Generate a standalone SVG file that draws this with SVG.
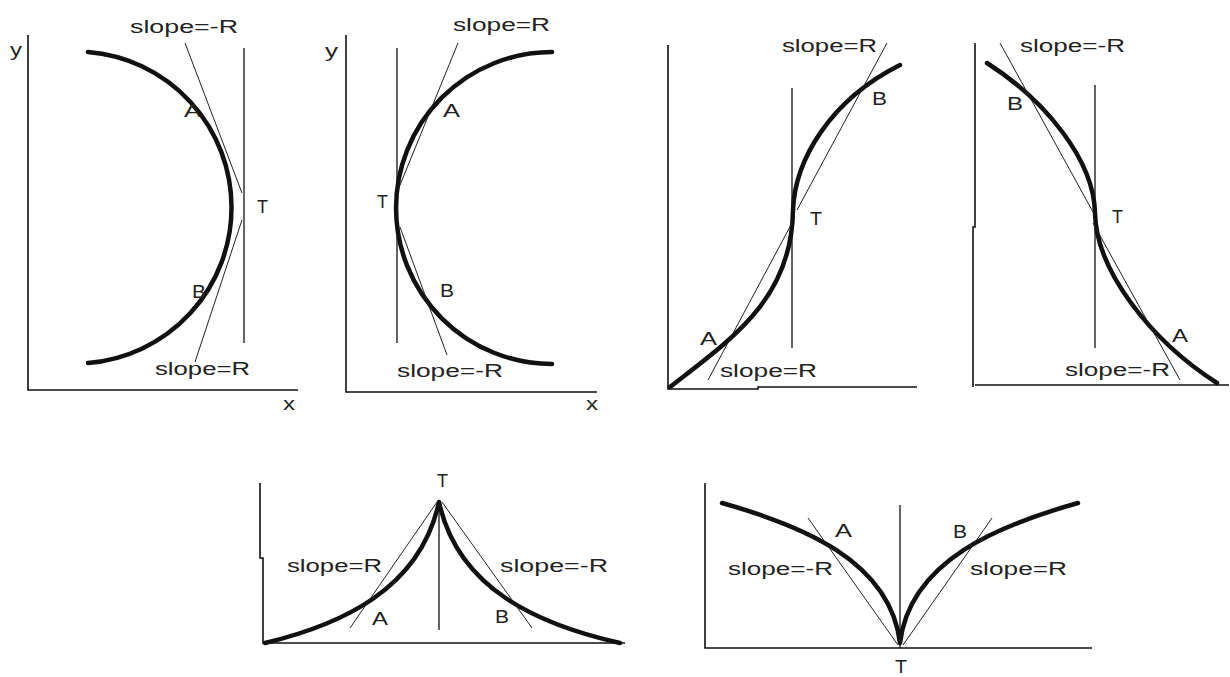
<svg xmlns="http://www.w3.org/2000/svg" width="1230" height="677" viewBox="0 0 1230 677">
<style>
.ax{fill:none;stroke:#111;stroke-width:1.6}
.vl{fill:none;stroke:#111;stroke-width:1.3}
.cv{fill:none;stroke:#111;stroke-width:4.5;stroke-linecap:round;stroke-linejoin:round}
.tg{fill:none;stroke:#222;stroke-width:1}
text{font-family:"Liberation Sans",Arial,sans-serif;font-size:18px;fill:#222}
</style>
<rect width="1230" height="677" fill="#fff"/>
<g id="panel1">
<path class="ax" d="M28,35 V390 H298"/>
<line class="vl" x1="244" y1="48" x2="244" y2="343"/>
<path class="cv" d="M88,52 A156,156 0 0 1 88,363"/>
<line class="tg" x1="185" y1="43" x2="242" y2="193"/>
<line class="tg" x1="195" y1="362" x2="242" y2="220"/>
<text x="10" y="56" textLength="12" lengthAdjust="spacingAndGlyphs">y</text>
<text x="130" y="33" textLength="108" lengthAdjust="spacingAndGlyphs">slope=-R</text>
<text x="184" y="117" textLength="17" lengthAdjust="spacingAndGlyphs">A</text>
<text x="257" y="213" textLength="11" lengthAdjust="spacingAndGlyphs">T</text>
<text x="192" y="298" textLength="14" lengthAdjust="spacingAndGlyphs">B</text>
<text x="155" y="375" textLength="95" lengthAdjust="spacingAndGlyphs">slope=R</text>
<text x="283" y="410" textLength="12" lengthAdjust="spacingAndGlyphs">x</text>
</g>
<g id="panel2">
<path class="ax" d="M346,35 V392 H597"/>
<line class="vl" x1="397" y1="48" x2="397" y2="343"/>
<path class="cv" d="M552,52 A156,156 0 0 0 552,364"/>
<line class="tg" x1="458" y1="43" x2="398" y2="190"/>
<line class="tg" x1="400" y1="227" x2="447" y2="355"/>
<text x="325" y="57" textLength="13" lengthAdjust="spacingAndGlyphs">y</text>
<text x="453" y="31" textLength="97" lengthAdjust="spacingAndGlyphs">slope=R</text>
<text x="443" y="117" textLength="17" lengthAdjust="spacingAndGlyphs">A</text>
<text x="377" y="208" textLength="11" lengthAdjust="spacingAndGlyphs">T</text>
<text x="440" y="297" textLength="14" lengthAdjust="spacingAndGlyphs">B</text>
<text x="397" y="377" textLength="106" lengthAdjust="spacingAndGlyphs">slope=-R</text>
<text x="586" y="410" textLength="12" lengthAdjust="spacingAndGlyphs">x</text>
</g>
<g id="panel3">
<path class="ax" d="M668,45 V389 H758 V387 H917"/>
<line class="vl" x1="792" y1="88" x2="792" y2="348"/>
<path class="cv" d="M670,387 C730,340 792,300 793,210 C795,160 830,100 900,65"/>
<line class="tg" x1="887" y1="43" x2="797" y2="210"/>
<line class="tg" x1="708" y1="380" x2="792" y2="223"/>
<text x="782" y="52" textLength="95" lengthAdjust="spacingAndGlyphs">slope=R</text>
<text x="872" y="105" textLength="15" lengthAdjust="spacingAndGlyphs">B</text>
<text x="810" y="225" textLength="12" lengthAdjust="spacingAndGlyphs">T</text>
<text x="700" y="345" textLength="17" lengthAdjust="spacingAndGlyphs">A</text>
<text x="720" y="377" textLength="97" lengthAdjust="spacingAndGlyphs">slope=R</text>
</g>
<g id="panel4">
<path class="ax" d="M975,43 V227 H973 V387"/>
<line class="ax" x1="975" y1="385" x2="1229" y2="385"/>
<line class="vl" x1="1095" y1="85" x2="1095" y2="348"/>
<path class="cv" d="M987,63 C1045,100 1094,160 1095,213 C1096,270 1150,340 1217,383"/>
<line class="tg" x1="1000" y1="43" x2="1093" y2="212"/>
<line class="tg" x1="1093" y1="223" x2="1180" y2="380"/>
<text x="1020" y="52" textLength="105" lengthAdjust="spacingAndGlyphs">slope=-R</text>
<text x="1007" y="110" textLength="16" lengthAdjust="spacingAndGlyphs">B</text>
<text x="1112" y="223" textLength="11" lengthAdjust="spacingAndGlyphs">T</text>
<text x="1172" y="342" textLength="16" lengthAdjust="spacingAndGlyphs">A</text>
<text x="1065" y="376" textLength="105" lengthAdjust="spacingAndGlyphs">slope=-R</text>
</g>
<g id="panel5">
<path class="ax" d="M260,483 V558 H263 V643 H625"/>
<line class="vl" x1="439" y1="503" x2="439" y2="630"/>
<path class="cv" d="M265,643 C340,625 420,590 439,502 C458,590 540,625 620,643"/>
<line class="tg" x1="437" y1="502" x2="350" y2="628"/>
<line class="tg" x1="442" y1="502" x2="532" y2="628"/>
<text x="437" y="487" textLength="11" lengthAdjust="spacingAndGlyphs">T</text>
<text x="287" y="572" textLength="95" lengthAdjust="spacingAndGlyphs">slope=R</text>
<text x="500" y="572" textLength="108" lengthAdjust="spacingAndGlyphs">slope=-R</text>
<text x="372" y="625" textLength="16" lengthAdjust="spacingAndGlyphs">A</text>
<text x="495" y="623" textLength="14" lengthAdjust="spacingAndGlyphs">B</text>
</g>
<g id="panel6">
<path class="ax" d="M705,483 V648 H1092"/>
<line class="vl" x1="900" y1="505" x2="900" y2="648"/>
<path class="cv" d="M722,503 C800,525 890,560 900,643 C910,560 1000,525 1078,503"/>
<line class="tg" x1="808" y1="518" x2="898" y2="645"/>
<line class="tg" x1="992" y1="518" x2="903" y2="645"/>
<text x="835" y="537" textLength="17" lengthAdjust="spacingAndGlyphs">A</text>
<text x="728" y="575" textLength="105" lengthAdjust="spacingAndGlyphs">slope=-R</text>
<text x="953" y="538" textLength="14" lengthAdjust="spacingAndGlyphs">B</text>
<text x="970" y="575" textLength="97" lengthAdjust="spacingAndGlyphs">slope=R</text>
<text x="895" y="673" textLength="12" lengthAdjust="spacingAndGlyphs">T</text>
</g>
</svg>
